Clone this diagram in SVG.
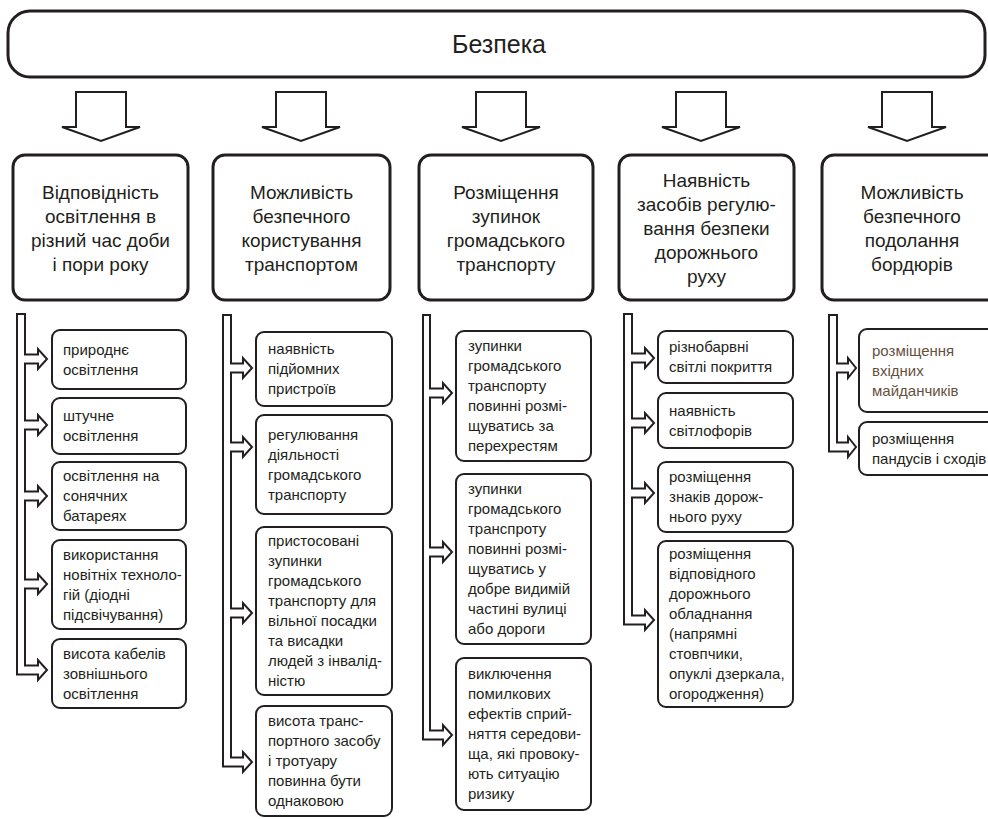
<svg xmlns="http://www.w3.org/2000/svg" width="988" height="819" viewBox="0 0 988 819">
  <style>
    .bg { fill: #ffffff; }
    .banner { fill: #ffffff; stroke: #231f20; stroke-width: 3; }
    .head { fill: #ffffff; stroke: #231f20; stroke-width: 3; }
    .item { fill: #ffffff; stroke: #231f20; stroke-width: 2; }
    .bigarrow { fill: #ffffff; stroke: #231f20; stroke-width: 2; stroke-linejoin: miter; }
    .bar { fill: #ffffff; stroke: #231f20; stroke-width: 2; stroke-linejoin: miter; }
    .title { font-family: "Liberation Sans", Arial, sans-serif; font-size: 25px; fill: #231f20; text-anchor: middle; }
    .htext { font-family: "Liberation Sans", Arial, sans-serif; font-size: 19px; fill: #231f20; text-anchor: middle; }
    .itext { font-family: "Liberation Sans", Arial, sans-serif; font-size: 15px; fill: #231f20; }
    .brown { fill: #65513f; }
  </style>

  <rect class="bg" x="0" y="0" width="988" height="819"/>

  <!-- top banner -->
  <g id="safety">
    <rect class="banner" x="8" y="11" width="977" height="66" rx="22" ry="22"/>
    <text class="title" x="499" y="53">Безпека</text>
  </g>

  <!-- connectors: hollow arrows and side bars -->
  <g id="connectors">
    <path class="bigarrow" d="M76,92 H126 V127 H140 L101,141 L62,127 H76 Z"/>
    <path class="bigarrow" d="M276,92 H326 V127 H340 L301,141 L262,127 H276 Z"/>
    <path class="bigarrow" d="M476,92 H526 V127 H540 L501,141 L462,127 H476 Z"/>
    <path class="bigarrow" d="M676,92 H726 V127 H740 L701,141 L662,127 H676 Z"/>
    <path class="bigarrow" d="M882,92 H932 V127 H946 L907,141 L868,127 H882 Z"/>

    <path class="bar" d="M17,314 H25 V354.5 H38 V349 L47,359 L38,369 V363.5 H25 V420.5 H38 V415 L47,425 L38,435 V429.5 H25 V491.5 H38 V486 L47,496 L38,506 V500.5 H25 V579.5 H38 V574 L47,584 L38,594 V588.5 H25 V665.5 H38 V660 L47,670 L38,680 V674.5 H17 Z"/>
    <path class="bar" d="M223,315 H231 V363.5 H243 V358 L252,368 L243,378 V372.5 H231 V442.5 H243 V437 L252,447 L243,457 V451.5 H231 V608.5 H243 V603 L252,613 L243,623 V617.5 H231 V757.5 H243 V752 L252,762 L243,772 V766.5 H223 Z"/>
    <path class="bar" d="M423,315 H430 V388.5 H443 V383 L452,393 L443,403 V397.5 H430 V547.5 H443 V542 L452,552 L443,562 V556.5 H430 V730.5 H443 V725 L452,735 L443,745 V739.5 H423 Z"/>
    <path class="bar" d="M624,314 H632 V353.5 H645 V348 L654,358 L645,368 V362.5 H632 V418.5 H645 V413 L654,423 L645,433 V427.5 H632 V488.5 H645 V483 L654,493 L645,503 V497.5 H632 V615.5 H645 V610 L654,620 L645,630 V624.5 H624 Z"/>
    <path class="bar" d="M829,315 H837 V363.5 H848 V358 L856,368 L848,378 V372.5 H837 V442.5 H848 V437 L856,447 L848,457 V451.5 H829 Z"/>
  </g>

  <!-- column 1: lighting -->
  <g id="lighting">
    <rect class="head" x="13" y="155" width="175" height="145" rx="12"/>
    <text class="htext" x="100.5" y="199">Відповідність</text>
    <text class="htext" x="100.5" y="223">освітлення в</text>
    <text class="htext" x="100.5" y="247">різний час доби</text>
    <text class="htext" x="100.5" y="271">і пори року</text>
  </g>
  <g id="lighting-natural">
    <rect class="item" x="52" y="330" width="134" height="59" rx="8"/>
    <text class="itext" x="63" y="355">природнє</text>
    <text class="itext" x="63" y="375">освітлення</text>
  </g>
  <g id="lighting-artificial">
    <rect class="item" x="52" y="398" width="134" height="56" rx="8"/>
    <text class="itext" x="63" y="421">штучне</text>
    <text class="itext" x="63" y="441">освітлення</text>
  </g>
  <g id="lighting-solar">
    <rect class="item" x="52" y="462" width="134" height="68" rx="8"/>
    <text class="itext" x="63" y="481">освітлення на</text>
    <text class="itext" x="63" y="501">сонячних</text>
    <text class="itext" x="63" y="521">батареях</text>
  </g>
  <g id="lighting-led">
    <rect class="item" x="52" y="540" width="134" height="89" rx="8"/>
    <text class="itext" x="63" y="560">використання</text>
    <text class="itext" x="63" y="580">новітніх техноло-</text>
    <text class="itext" x="63" y="600">гій (діодні</text>
    <text class="itext" x="63" y="620">підсвічування)</text>
  </g>
  <g id="lighting-cables">
    <rect class="item" x="52" y="639" width="134" height="69" rx="8"/>
    <text class="itext" x="63" y="659">висота кабелів</text>
    <text class="itext" x="63" y="679">зовнішнього</text>
    <text class="itext" x="63" y="699">освітлення</text>
  </g>

  <!-- column 2: transport use -->
  <g id="transport-use">
    <rect class="head" x="213" y="155" width="177" height="145" rx="12"/>
    <text class="htext" x="301.5" y="199">Можливість</text>
    <text class="htext" x="301.5" y="223">безпечного</text>
    <text class="htext" x="301.5" y="247">користування</text>
    <text class="htext" x="301.5" y="271">транспортом</text>
  </g>
  <g id="use-lifts">
    <rect class="item" x="256" y="332" width="136" height="74" rx="8"/>
    <text class="itext" x="268" y="354">наявність</text>
    <text class="itext" x="268" y="374">підйомних</text>
    <text class="itext" x="268" y="394">пристроїв</text>
  </g>
  <g id="use-regulation">
    <rect class="item" x="256" y="415" width="136" height="99" rx="8"/>
    <text class="itext" x="268" y="440">регулювання</text>
    <text class="itext" x="268" y="460">діяльності</text>
    <text class="itext" x="268" y="480">громадського</text>
    <text class="itext" x="268" y="500">транспорту</text>
  </g>
  <g id="use-adapted-stops">
    <rect class="item" x="256" y="527" width="136" height="168" rx="8"/>
    <text class="itext" x="268" y="546">пристосовані</text>
    <text class="itext" x="268" y="566">зупинки</text>
    <text class="itext" x="268" y="586">громадського</text>
    <text class="itext" x="268" y="606">транспорту для</text>
    <text class="itext" x="268" y="626">вільної посадки</text>
    <text class="itext" x="268" y="646">та висадки</text>
    <text class="itext" x="268" y="666">людей з інвалід-</text>
    <text class="itext" x="268" y="686">ністю</text>
  </g>
  <g id="use-level">
    <rect class="item" x="256" y="706" width="136" height="110" rx="8"/>
    <text class="itext" x="268" y="726">висота транс-</text>
    <text class="itext" x="268" y="746">портного засобу</text>
    <text class="itext" x="268" y="766">і тротуару</text>
    <text class="itext" x="268" y="786">повинна бути</text>
    <text class="itext" x="268" y="806">однаковою</text>
  </g>

  <!-- column 3: stop placement -->
  <g id="stops">
    <rect class="head" x="419" y="155" width="174" height="145" rx="12"/>
    <text class="htext" x="506" y="199">Розміщення</text>
    <text class="htext" x="506" y="223">зупинок</text>
    <text class="htext" x="506" y="247">громадського</text>
    <text class="htext" x="506" y="271">транспорту</text>
  </g>
  <g id="stops-crossroads">
    <rect class="item" x="456" y="331" width="135" height="130" rx="8"/>
    <text class="itext" x="468" y="351">зупинки</text>
    <text class="itext" x="468" y="371">громадського</text>
    <text class="itext" x="468" y="391">транспорту</text>
    <text class="itext" x="468" y="411">повинні розмі-</text>
    <text class="itext" x="468" y="431">щуватись за</text>
    <text class="itext" x="468" y="451">перехрестям</text>
  </g>
  <g id="stops-visible">
    <rect class="item" x="456" y="474" width="135" height="170" rx="8"/>
    <text class="itext" x="468" y="494">зупинки</text>
    <text class="itext" x="468" y="514">громадського</text>
    <text class="itext" x="468" y="534">транспроту</text>
    <text class="itext" x="468" y="554">повинні розмі-</text>
    <text class="itext" x="468" y="574">щуватись у</text>
    <text class="itext" x="468" y="594">добре видимій</text>
    <text class="itext" x="468" y="614">частині вулиці</text>
    <text class="itext" x="468" y="634">або дороги</text>
  </g>
  <g id="stops-perception">
    <rect class="item" x="456" y="658" width="135" height="152" rx="8"/>
    <text class="itext" x="468" y="679">виключення</text>
    <text class="itext" x="468" y="699">помилкових</text>
    <text class="itext" x="468" y="719">ефектів сприй-</text>
    <text class="itext" x="468" y="739">няття середови-</text>
    <text class="itext" x="468" y="759">ща, які провоку-</text>
    <text class="itext" x="468" y="779">ють ситуацію</text>
    <text class="itext" x="468" y="799">ризику</text>
  </g>

  <!-- column 4: traffic control -->
  <g id="traffic-control">
    <rect class="head" x="619" y="155" width="175" height="145" rx="12"/>
    <text class="htext" x="706.5" y="187">Наявність</text>
    <text class="htext" x="706.5" y="211">засобів регулю-</text>
    <text class="htext" x="706.5" y="235">вання безпеки</text>
    <text class="htext" x="706.5" y="259">дорожнього</text>
    <text class="htext" x="706.5" y="283">руху</text>
  </g>
  <g id="control-coatings">
    <rect class="item" x="658" y="331" width="135" height="52" rx="8"/>
    <text class="itext" x="669" y="352">різнобарвні</text>
    <text class="itext" x="669" y="372">світлі покриття</text>
  </g>
  <g id="control-lights">
    <rect class="item" x="658" y="393" width="135" height="55" rx="8"/>
    <text class="itext" x="669" y="416">наявність</text>
    <text class="itext" x="669" y="436">світлофорів</text>
  </g>
  <g id="control-signs">
    <rect class="item" x="658" y="462" width="135" height="70" rx="8"/>
    <text class="itext" x="669" y="482">розміщення</text>
    <text class="itext" x="669" y="502">знаків дорож-</text>
    <text class="itext" x="669" y="522">нього руху</text>
  </g>
  <g id="control-equipment">
    <rect class="item" x="658" y="541" width="135" height="166" rx="8"/>
    <text class="itext" x="669" y="559">розміщення</text>
    <text class="itext" x="669" y="579">відповідного</text>
    <text class="itext" x="669" y="599">дорожнього</text>
    <text class="itext" x="669" y="619">обладнання</text>
    <text class="itext" x="669" y="639">(напрямні</text>
    <text class="itext" x="669" y="659">стовпчики,</text>
    <text class="itext" x="669" y="679">опуклі дзеркала,</text>
    <text class="itext" x="669" y="699">огородження)</text>
  </g>

  <!-- column 5: kerbs -->
  <g id="kerbs">
    <rect class="head" x="822" y="155" width="180" height="145" rx="12"/>
    <text class="htext" x="912" y="199">Можливість</text>
    <text class="htext" x="912" y="223">безпечного</text>
    <text class="htext" x="912" y="247">подолання</text>
    <text class="htext" x="912" y="271">бордюрів</text>
  </g>
  <g id="kerbs-platforms">
    <rect class="item" x="859" y="329" width="140" height="83" rx="8"/>
    <text class="itext brown" x="872" y="356">розміщення</text>
    <text class="itext brown" x="872" y="376">вхідних</text>
    <text class="itext brown" x="872" y="396">майданчиків</text>
  </g>
  <g id="kerbs-ramps">
    <rect class="item" x="859" y="422" width="140" height="53" rx="8"/>
    <text class="itext" x="872" y="444">розміщення</text>
    <text class="itext" x="872" y="464">пандусів і сходів</text>
  </g>
</svg>
